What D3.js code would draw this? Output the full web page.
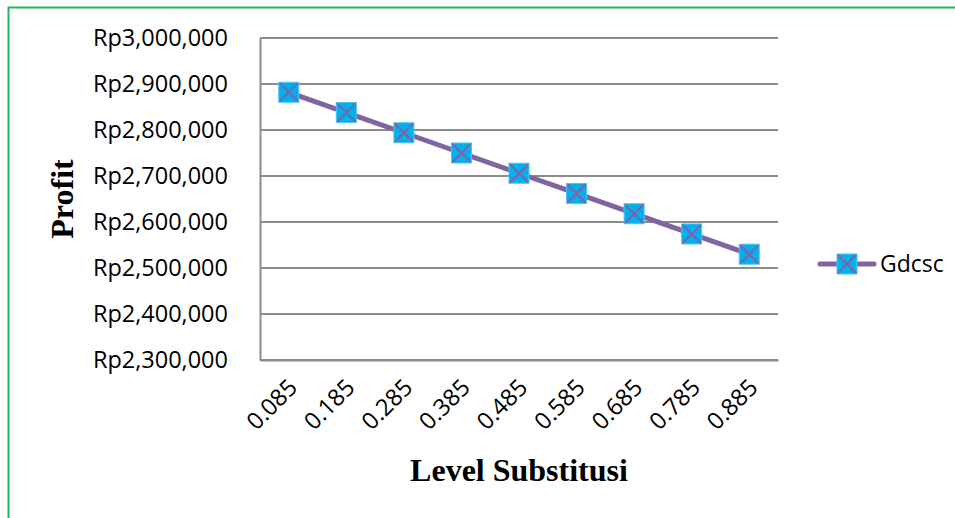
<!DOCTYPE html>
<html>
<head>
<meta charset="utf-8">
<script src="https://cdn.jsdelivr.net/npm/d3@7"></script>
<style>
  body { margin: 0; background: #fff; }
  svg { display: block; }
</style>
</head>
<body>
<div id="chart"></div>
<script>
// data
var levels = ["0.085", "0.185", "0.285", "0.385", "0.485", "0.585", "0.685", "0.785", "0.885"];
var profit = [2882000, 2838000, 2794000, 2750000, 2706000, 2662000, 2618000, 2574000, 2530000];
var yTicks = [2300000, 2400000, 2500000, 2600000, 2700000, 2800000, 2900000, 3000000];
var seriesName = "Gdcsc";

const W = 955, H = 518;
const plot = { left: 260, right: 778, top: 38, bottom: 360 };

const svg = d3.select("#chart")
    .append("svg")
    .attr("width", W)
    .attr("height", H);

// outer green frame
svg.append("rect")
    .attr("x", 8.5).attr("y", 7.5)
    .attr("width", W + 20).attr("height", H + 20)
    .attr("fill", "none")
    .attr("stroke", "#1db954")
    .attr("stroke-width", 2);

const xScale = d3.scaleBand()
    .domain(levels)
    .range([plot.left, plot.right]);

const yScale = d3.scaleLinear()
    .domain([2300000, 3000000])
    .range([plot.bottom, plot.top]);

const fmt = v => "Rp" + d3.format(",")(v);

// gridlines
svg.append("g")
    .selectAll("line")
    .data(yTicks)
    .enter()
    .append("line")
    .attr("x1", plot.left)
    .attr("x2", plot.right)
    .attr("y1", d => yScale(d))
    .attr("y2", d => yScale(d))
    .attr("stroke", "#8c8c8c")
    .attr("stroke-width", 2);

// y axis
const yAxis = svg.append("g")
    .attr("transform", `translate(${plot.left}, 0)`)
    .call(d3.axisLeft(yScale).tickValues(yTicks).tickFormat(fmt).tickSize(0).tickPadding(32));
yAxis.select(".domain").attr("stroke", "#8c8c8c").attr("stroke-width", 2);
yAxis.selectAll("text")
    .style("font-family", "'Open Sans', sans-serif")
    .style("font-size", "23.5px")
    .attr("fill", "#000");

// x axis
const xAxis = svg.append("g")
    .attr("transform", `translate(0, ${plot.bottom})`)
    .call(d3.axisBottom(xScale).tickSize(0).tickPadding(0));
xAxis.select(".domain").attr("stroke", "#8c8c8c").attr("stroke-width", 2);
xAxis.selectAll("text")
    .style("font-family", "'Open Sans', sans-serif")
    .style("font-size", "23.5px")
    .attr("fill", "#000")
    .attr("text-anchor", "end")
    .attr("dy", null)
    .attr("transform", "translate(10, 29) rotate(-45)");

// line
const cx = d => xScale(d) + xScale.bandwidth() / 2;
const line = d3.line()
    .x((d, i) => cx(levels[i]))
    .y(d => yScale(d));

svg.append("path")
    .datum(profit)
    .attr("d", line)
    .attr("fill", "none")
    .attr("stroke", "#8064a2")
    .attr("stroke-width", 5);

// markers
function drawMarker(g, x, y) {
    const s = 10;
    g.append("rect")
        .attr("x", x - s).attr("y", y - s)
        .attr("width", 2 * s).attr("height", 2 * s)
        .attr("fill", "#00b0f0")
        .attr("stroke", "#4fc3f0")
        .attr("stroke-width", 1);
    g.append("path")
        .attr("d", `M${x - s + 1},${y - s + 1}L${x + s - 1},${y + s - 1}M${x + s - 1},${y - s + 1}L${x - s + 1},${y + s - 1}`)
        .attr("stroke", "#8064a2")
        .attr("stroke-width", 2);
}
const markers = svg.append("g");
profit.forEach((v, i) => drawMarker(markers, cx(levels[i]), yScale(v)));

// legend
const legend = svg.append("g");
legend.append("line")
    .attr("x1", 820).attr("x2", 874)
    .attr("y1", 264).attr("y2", 264)
    .attr("stroke", "#8064a2")
    .attr("stroke-width", 5)
    .attr("stroke-linecap", "round");
drawMarker(legend, 847, 264);
legend.append("text")
    .attr("x", 880)
    .attr("y", 272)
    .style("font-family", "'Open Sans', sans-serif")
    .style("font-size", "23px")
    .text(seriesName);

// axis titles
svg.append("text")
    .attr("x", (plot.left + plot.right) / 2)
    .attr("y", 481)
    .attr("text-anchor", "middle")
    .style("font-family", "'Liberation Serif', serif")
    .style("font-weight", "bold")
    .style("font-size", "32px")
    .text("Level Substitusi");

svg.append("text")
    .attr("transform", "rotate(-90)")
    .attr("x", -199)
    .attr("y", 73)
    .attr("text-anchor", "middle")
    .style("font-family", "'Liberation Serif', serif")
    .style("font-weight", "bold")
    .style("font-size", "32px")
    .text("Profit");
</script>
</body>
</html>
